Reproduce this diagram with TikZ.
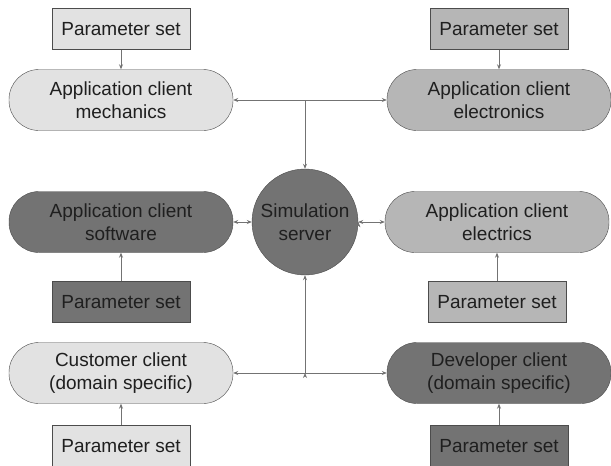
\documentclass[tikz,border=0pt]{standalone}
\usepackage{fontspec}
\setmainfont{Liberation Sans}
\usetikzlibrary{positioning,arrows.meta}

\definecolor{greylight}{HTML}{E2E2E2}
\definecolor{greymid}{HTML}{B6B6B6}
\definecolor{greydark}{HTML}{737373}

\begin{document}
\begin{tikzpicture}[x=1pt,y=-1pt,on grid,node distance=71pt,
  >={Stealth[length=5pt,width=4pt]},
  client/.style={draw=black!70,rounded corners=30pt,minimum width=224pt,
    minimum height=61pt,align=center,inner sep=2pt},
  params/.style={draw=black!70,minimum width=138pt,minimum height=41pt},
  server/.style={draw=black!70,circle,minimum size=106pt,align=center,inner sep=0pt},
  link/.style={draw=black!55,line width=0.9pt},
  font=\fontsize{19}{23}\selectfont,text=black!88]
  \useasboundingbox (0,0) rectangle (611,466);
  \node[server,fill=greydark] (srv) at (305,222) {Simulation\\server};
  \node[client,fill=greylight] (mech) [above left=122pt and 184pt of srv] {Application client\\mechanics};
  \node[client,fill=greymid] (elec) [above right=122pt and 194pt of srv] {Application client\\electronics};
  \node[client,fill=greydark] (soft) [left=184pt of srv] {Application client\\software};
  \node[client,fill=greymid] (elcs) [right=192pt of srv] {Application client\\electrics};
  \node[client,fill=greylight] (cust) [below left=151pt and 184pt of srv] {Customer client\\(domain specific)};
  \node[client,fill=greydark] (dev) [below right=151pt and 194pt of srv] {Developer client\\(domain specific)};
  \node[params,fill=greylight] (pmech) [above=of mech] {Parameter set};
  \node[params,fill=greymid] (pelec) [above=of elec] {Parameter set};
  \node[params,fill=greydark] (psoft) [below=80pt of soft] {Parameter set};
  \node[params,fill=greymid] (pelcs) [below=80pt of elcs] {Parameter set};
  \node[params,fill=greylight] (pcust) [below=73pt of cust] {Parameter set};
  \node[params,fill=greydark] (pdev) [below=73pt of dev] {Parameter set};
  \coordinate (jtop) at (srv |- mech.east);
  \coordinate (jbot) at (srv |- cust.east);
  \path[->,link]
  (pmech) edge (mech)
  (pelec) edge (elec)
  (psoft) edge (soft)
  (pelcs) edge (elcs)
  (pcust) edge (cust)
  (pdev) edge (dev)
  (jtop) edge (srv.north)
  (jbot) edge (srv.south)
  ;
  \path[<->,link]
  (mech.east) edge (elec.west)
  (cust.east) edge (dev.west)
  (soft.east) edge (srv.west)
  (srv.east) edge (elcs.west)
  ;
\end{tikzpicture}
\end{document}
